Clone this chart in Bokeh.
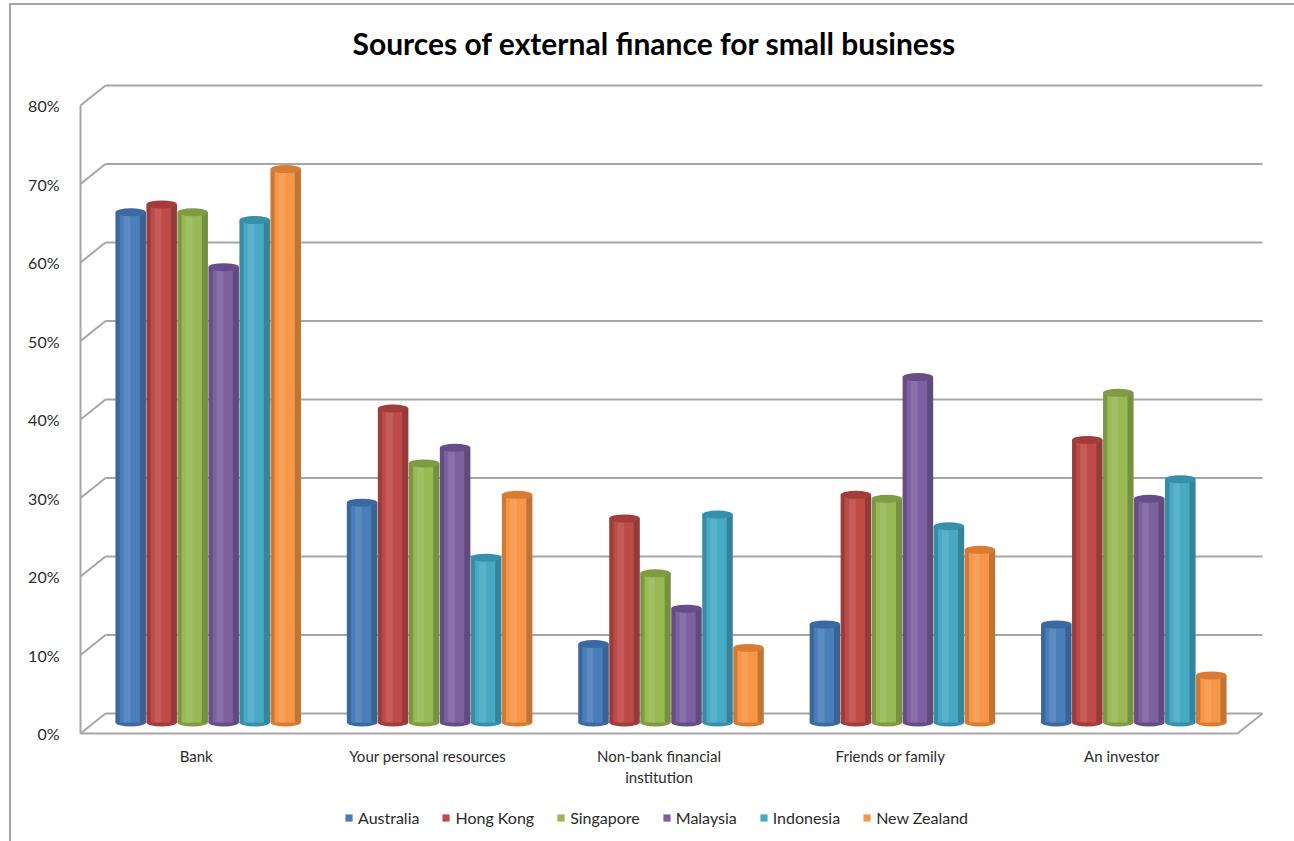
from bokeh.plotting import figure
from bokeh.models import Range1d, FixedTicker, Legend, LegendItem, NumeralTickFormatter
from bokeh.embed import file_html
from bokeh.resources import INLINE

# ---------------- data ----------------
categories = ["Bank", "Your personal resources", "Non-bank financial\ninstitution",
              "Friends or family", "An investor"]
countries = ["Australia", "Hong Kong", "Singapore", "Malaysia", "Indonesia", "New Zealand"]
australia = [0.65, 0.28, 0.10, 0.125, 0.125]
hong_kong = [0.66, 0.40, 0.26, 0.29, 0.36]
singapore = [0.65, 0.33, 0.19, 0.285, 0.42]
malaysia = [0.58, 0.35, 0.145, 0.44, 0.285]
indonesia = [0.64, 0.21, 0.265, 0.25, 0.31]
new_zealand = [0.705, 0.29, 0.095, 0.22, 0.06]
series = [australia, hong_kong, singapore, malaysia, indonesia, new_zealand]
y_ticks = [0, 0.1, 0.2, 0.3, 0.4, 0.5, 0.6, 0.7, 0.8]

# ---------------- style ----------------
colors = ["#4a7ebb", "#be4b48", "#98b954", "#7d60a0", "#46aac5", "#f79646"]
caps = ["#3b6aa3", "#a33c3a", "#7f9c42", "#664c88", "#3690aa", "#d97b30"]
grid_color = "#a6a6a6"
FONT = "Lato"
TXT = "#2b2b2b"

px_x = 231.4      # pixels per category unit
px_y = 785.0      # pixels per 100%
depth_x = 25 / px_x
depth_y = 20 / px_y
mid_x = 12 / px_x
mid_y = 11 / px_y
bar_step = 31 / px_x
bar_w = 30.5 / px_x
n_cat = len(categories)

p = figure(frame_width=1193, frame_height=761,
           min_border_left=64, min_border_right=26, min_border_top=73, min_border_bottom=2,
           x_range=Range1d(-0.5 - 5 / px_x, -0.5 + (1268 - 80) / px_x),
           y_range=Range1d(-(839 - 733) / px_y, (733 - 78) / px_y),
           output_backend="svg", toolbar_location=None,
           margin=(3, 0, 0, 9),
           styles={"border-left": "2px solid #a6a6a6", "border-top": "2px solid #a6a6a6"})
p.outline_line_color = None
p.xgrid.visible = False
p.ygrid.visible = False
p.background_fill_color = "white"
p.border_fill_color = "white"

# title
p.title.text = "Sources of external finance for small business"
p.title.align = "left"
p.title.text_font = FONT
p.title.text_font_size = "30px"
p.title.text_font_style = "bold"
p.title.text_color = "black"
p.title.offset = 277
p.title.standoff = 35

# ---- 3D frame: back wall gridlines, left slants, floor ----
x_front_left = -0.5
x_back_left = -0.5 + depth_x
x_front_right = n_cat - 0.5
x_back_right = x_front_right + depth_x
gy = [t + depth_y for t in y_ticks]
p.segment(x0=[x_back_left] * len(y_ticks), y0=gy, x1=[x_back_right] * len(y_ticks), y1=gy,
          line_color=grid_color, line_width=2)
p.segment(x0=[x_front_left] * len(y_ticks), y0=y_ticks, x1=[x_back_left] * len(y_ticks), y1=gy,
          line_color=grid_color, line_width=2)
p.segment(x0=[x_front_left, x_front_left, x_front_right],
          y0=[0, 0, 0],
          x1=[x_front_left, x_front_right, x_back_right],
          y1=[y_ticks[-1], 0, depth_y],
          line_color=grid_color, line_width=2)

# ---- cylinders ----
legend_items = []
for j, (name, vals) in enumerate(zip(countries, series)):
    xs = [i + (j - 2.5) * bar_step + mid_x for i in range(n_cat)]
    tops = [v + mid_y for v in vals]
    base = [mid_y] * n_cat
    c = colors[j]
    p.ellipse(x=xs, y=base, width=bar_w, height=8, height_units="screen",
              fill_color=caps[j], line_color=None)
    r = p.vbar(x=xs, bottom=base, top=tops, width=bar_w, fill_color=c, line_color=None)
    # shading strips
    p.vbar(x=[x - bar_w / 2 + bar_w * 0.07 for x in xs], bottom=base, top=tops, width=bar_w * 0.14,
           fill_color="black", fill_alpha=0.18, line_color=None)
    p.vbar(x=[x + bar_w / 2 - bar_w * 0.1 for x in xs], bottom=base, top=tops, width=bar_w * 0.2,
           fill_color="black", fill_alpha=0.22, line_color=None)
    p.vbar(x=[x - bar_w * 0.12 for x in xs], bottom=base, top=tops, width=bar_w * 0.22,
           fill_color="white", fill_alpha=0.10, line_color=None)
    p.ellipse(x=xs, y=tops, width=bar_w, height=8, height_units="screen",
              fill_color=caps[j], line_color=None)
    legend_items.append(LegendItem(label=name, renderers=[r]))

# ---- axes ----
ya = p.yaxis[0]
ya.ticker = FixedTicker(ticks=y_ticks)
ya.formatter = NumeralTickFormatter(format="0%")
ya.axis_line_color = None
ya.major_tick_line_color = None
ya.minor_tick_line_color = None
ya.major_label_standoff = 10
ya.major_label_text_font = FONT
ya.major_label_text_font_size = "16px"
ya.major_label_text_color = TXT

xa = p.xaxis[0]
xa.ticker = FixedTicker(ticks=list(range(n_cat)))
xa.major_label_overrides = {i: c for i, c in enumerate(categories)}
xa.fixed_location = -7 / px_y
xa.axis_line_color = None
xa.major_tick_line_color = None
xa.minor_tick_line_color = None
xa.major_label_standoff = 0
xa.major_label_text_font = FONT
xa.major_label_text_font_size = "15px"
xa.major_label_text_color = TXT

legend = Legend(items=legend_items, orientation="horizontal", location=(269, 12),
                label_text_font=FONT, label_text_font_size="16px", label_text_color=TXT,
                glyph_width=9, glyph_height=9, label_standoff=5, spacing=22,
                border_line_color=None, background_fill_alpha=0,
                margin=0, padding=2)
p.add_layout(legend, "center")

open("out.html", "w").write(file_html(p, INLINE))
